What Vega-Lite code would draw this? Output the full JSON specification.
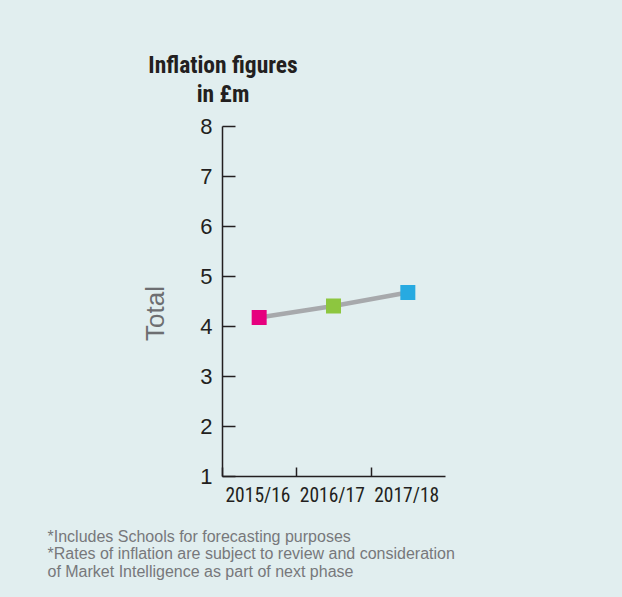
{
  "$schema": "https://vega.github.io/schema/vega-lite/v6.json",
  "autosize": {"type": "none"},
  "width": 223,
  "height": 350,
  "padding": {"left": 222, "top": 126, "right": 177, "bottom": 121},
  "background": "#e1eeef",
  "title": {
    "text": ["Inflation figures", "in £m"],
    "anchor": "start",
    "align": "center",
    "frame": "group",
    "dx": 1,
    "font": "Roboto Condensed",
    "fontSize": 23.5,
    "fontWeight": "bold",
    "color": "#231f20",
    "lineHeight": 29,
    "offset": 9
  },
  "data": {
    "values": [
      {"year": "2015/16", "total": 4.17},
      {"year": "2016/17", "total": 4.40},
      {"year": "2017/18", "total": 4.67}
    ]
  },
  "config": {
    "view": {"stroke": null},
    "axis": {"domainColor": "#231f20", "domainWidth": 1.5, "tickColor": "#231f20", "tickWidth": 1.5, "grid": false}
  },
  "encoding": {
    "x": {
      "field": "year",
      "type": "ordinal",
      "scale": {"paddingInner": 0, "paddingOuter": 0},
      "axis": {
        "labelAngle": 0,
        "tickOffset": -37.17,
        "labelOffset": 35.5,
        "tickSize": -9,
        "labelPadding": 19,
        "labelFont": "Roboto Condensed",
        "labelFontSize": 19.5,
        "labelColor": "#231f20",
        "title": ["*Includes Schools for forecasting purposes", "*Rates of inflation are subject to review and consideration", "of Market Intelligence as part of next phase"],
        "titleFont": "Liberation Sans",
        "titleFontSize": 16,
        "titleFontWeight": "normal",
        "titleColor": "#77787b",
        "titleAlign": "left",
        "titleAnchor": "start",
        "titleBaseline": "alphabetic",
        "titleLineHeight": 17.5,
        "titleX": -175,
        "titleY": 65
      }
    },
    "y": {
      "field": "total",
      "type": "quantitative",
      "scale": {"domain": [1, 8], "nice": false, "zero": false},
      "axis": {
        "values": [1, 2, 3, 4, 5, 6, 7, 8],
        "tickSize": -13,
        "labelPadding": 23,
        "labelFont": "Liberation Sans",
        "labelFontSize": 22,
        "labelColor": "#231f20",
        "title": "Total",
        "titleFont": "Liberation Sans",
        "titleFontSize": 26,
        "titleFontWeight": "normal",
        "titleColor": "#6d6e71",
        "titleAngle": -90,
        "titleAlign": "center",
        "titleBaseline": "alphabetic",
        "titleX": -59,
        "titleY": 187
      }
    }
  },
  "layer": [
    {"mark": {"type": "line", "color": "#a7a9ac", "strokeWidth": 4.5}},
    {
      "mark": {"type": "point", "shape": "square", "filled": true, "size": 225, "opacity": 1},
      "encoding": {
        "color": {
          "field": "year",
          "type": "nominal",
          "scale": {"range": ["#e6007e", "#8dc63f", "#27aae1"]},
          "legend": null
        }
      }
    }
  ]
}
